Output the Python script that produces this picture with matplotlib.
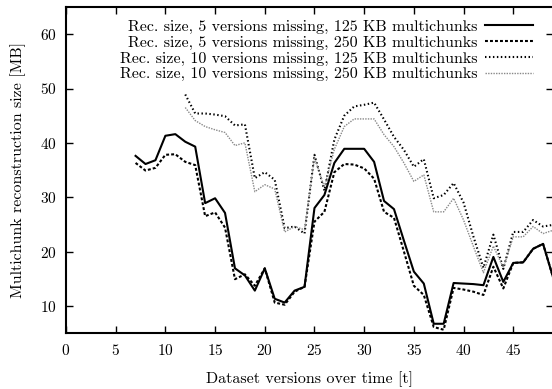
import matplotlib
matplotlib.use("Agg")
import matplotlib.pyplot as plt

plt.rcParams['font.family'] = ['cmr10', 'DejaVu Serif']
plt.rcParams['mathtext.fontset'] = 'cm'
plt.rcParams['axes.formatter.use_mathtext'] = True

t5 = list(range(7, 50))
t10 = list(range(12, 50))

rec5_125 = [37.6, 36.1, 36.8, 41.3, 41.6, 40.2, 39.3,
            28.9, 29.8, 27.1, 16.9, 15.6, 12.8, 16.9, 11.3, 10.6, 12.8, 13.5,
            28.0, 30.4, 36.3, 38.9, 38.9, 38.9, 36.5, 29.3, 27.8, 22.0, 16.3, 14.1,
            6.7, 6.7, 14.2, 14.1, 14.0, 13.8, 19.0, 14.4, 17.9, 18.0, 20.5, 21.4, 15.3]
rec5_250 = [36.3, 34.9, 35.4, 37.8, 37.9, 36.5, 35.9,
            26.5, 27.2, 24.4, 14.9, 15.8, 13.7, 16.9, 10.6, 10.2, 12.6, 13.5,
            25.5, 27.3, 34.6, 36.1, 36.0, 35.3, 33.4, 27.3, 26.2, 20.0, 13.7, 12.0,
            6.1, 5.6, 13.3, 13.0, 12.6, 12.0, 17.2, 13.2, 17.9, 18.0, 20.5, 21.4, 15.3]
rec10_125 = [48.9, 45.4, 45.4, 45.2, 44.9, 43.2, 43.4, 33.5, 34.6, 33.2,
             24.3, 24.6, 23.3, 37.8, 31.2, 40.6, 45.0, 46.7, 47.0, 47.4,
             44.3, 41.1, 38.7, 35.6, 37.0, 29.8, 30.4, 32.6, 29.0, 22.7,
             17.0, 23.1, 16.8, 23.6, 23.6, 25.8, 24.6, 24.9]
rec10_250 = [46.5, 44.1, 43.0, 42.4, 41.9, 39.5, 40.0, 31.0, 32.3, 31.5,
             23.6, 24.6, 24.0, 37.3, 31.8, 38.8, 43.0, 44.4, 44.4, 44.4,
             41.5, 39.3, 36.3, 32.9, 34.1, 27.3, 27.3, 29.8, 25.8, 20.9,
             16.1, 21.0, 17.0, 22.7, 22.7, 24.6, 23.3, 23.9]

labels = ["Rec. size, 5 versions missing, 125 KB multichunks",
          "Rec. size, 5 versions missing, 250 KB multichunks",
          "Rec. size, 10 versions missing, 125 KB multichunks",
          "Rec. size, 10 versions missing, 250 KB multichunks"]

xticks = [0, 5, 10, 15, 20, 25, 30, 35, 40, 45]
yticks = [10, 20, 30, 40, 50, 60]

fig = plt.figure(figsize=(5.52, 3.89), dpi=100)
ax = fig.add_axes([66/552, 56/389, (553-66)/552, (333-7)/389])

ax.plot(t5, rec5_125, color='black', lw=1.5, ls='-', label=labels[0])
ax.plot(t5, rec5_250, color='black', lw=1.5, ls=(0, (1.4, 1.0)), label=labels[1])
ax.plot(t10, rec10_125, color='black', lw=1.5, ls=(0, (0.7, 1.2)), label=labels[2])
ax.plot(t10, rec10_250, color='#888888', lw=1.0, ls=(0, (1.0, 0.9)), label=labels[3])

ax.set_xlim(0, 49)
ax.set_ylim(5, 65)
ax.set_xticks(xticks)
ax.set_yticks(yticks)
ax.tick_params(direction='in', length=5, width=1, top=True, right=True,
               labelsize=11, pad=7, colors='black')
for s in ax.spines.values():
    s.set_linewidth(1.5)

ax.set_xlabel("Dataset versions over time [t]", fontsize=11.5, labelpad=10)
ax.set_ylabel("Multichunk reconstruction size [MB]", fontsize=11.5, labelpad=10)

leg = ax.legend(loc='upper right', bbox_to_anchor=(0.985, 1.0), frameon=False,
                markerfirst=False, fontsize=11.5, handlelength=3.0,
                handletextpad=0.5, labelspacing=0.1, borderpad=0.3)

fig.savefig("out.png", dpi=100)
